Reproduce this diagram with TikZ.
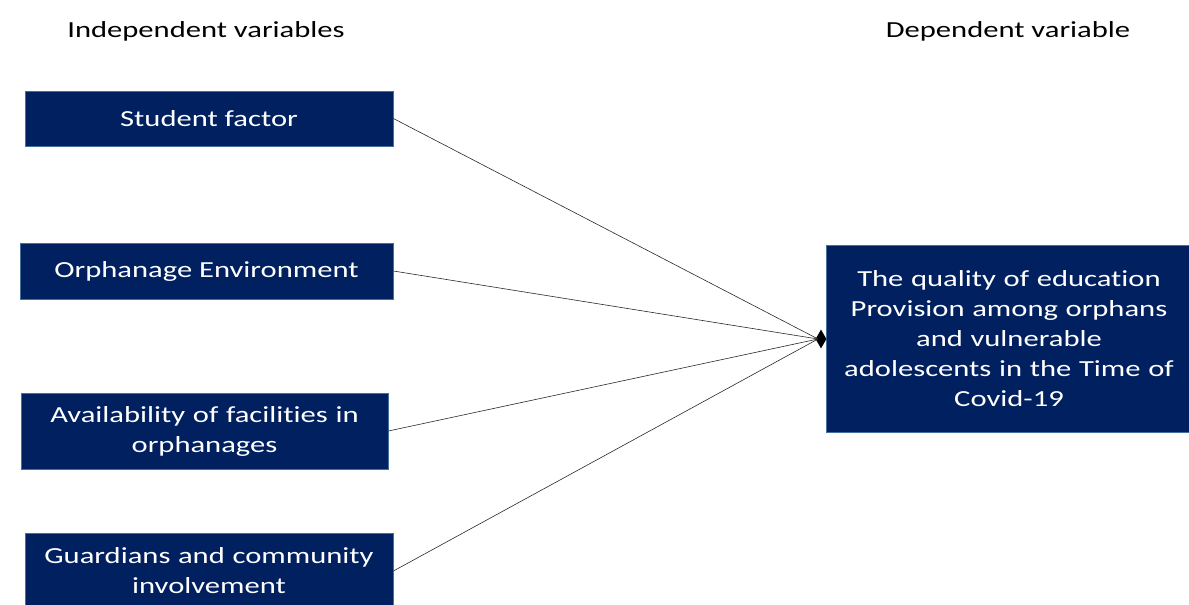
\documentclass[tikz,border=0pt]{standalone}
\usepackage{fontspec}
\setmainfont{Carlito}[FakeStretch=1.33,Ligatures=NoCommon]
\usetikzlibrary{shapes.geometric}
\definecolor{navy}{RGB}{0,32,96}
\definecolor{boxedge}{RGB}{65,113,156}
\definecolor{linegray}{RGB}{40,40,40}
\tikzset{
  varbox/.style={rectangle, fill=navy, draw=boxedge, line width=0.8pt, text=white,
    align=center, inner sep=0pt, font=\fontsize{23}{30}\selectfont},
  header/.style={anchor=base, font=\fontsize{23}{30}\selectfont, text=black},
  link/.style={draw=linegray, line width=0.6pt},
  hubtip/.style={diamond, fill=black, inner sep=0pt, minimum width=11pt, minimum height=19pt}
}
\begin{document}
\begin{tikzpicture}[x=1pt,y=-1pt]
\useasboundingbox (0,0) rectangle (1189,605);
\clip (0,0) rectangle (1189,605);
\node[header] (hind) at (206,37) {Independent variables};
\node[header] (hdep) at (1008,37) {Dependent variable};
\node[varbox, minimum width=368pt, minimum height=55pt] (b1) at (209,118.5) {Student factor};
\node[varbox, minimum width=373pt, minimum height=56pt] (b2) at (206.5,271) {Orphanage Environment};
\node[varbox, minimum width=367pt, minimum height=76pt, text width=360pt] (b3) at (204.5,431) {Availability of facilities in\\orphanages};
\node[varbox, minimum width=368pt, minimum height=76pt, text width=360pt] (b4) at (209,571) {Guardians and community\\involvement};
\node[varbox, minimum width=366pt, minimum height=187pt, text width=350pt] (dep) at (1009,338.5) {The quality of education\\Provision among orphans\\and vulnerable\\adolescents in the Time of\\Covid-19};
\node[hubtip] (tip) at (821,339) {};
\coordinate (hub) at (818,339);
\draw[link] (b1.east) -- (hub);
\draw[link] (b2.east) -- (hub);
\draw[link] (b3.east) -- (hub);
\draw[link] (b4.east) -- (hub);
\end{tikzpicture}
\end{document}
